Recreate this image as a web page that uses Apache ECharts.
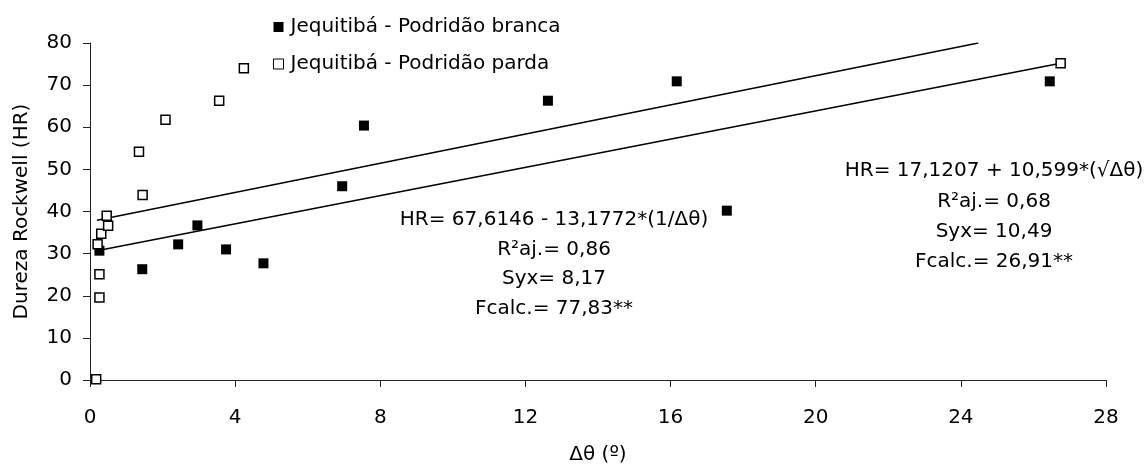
<!DOCTYPE html>
<html>
<head>
<meta charset="utf-8">
<script src="https://cdn.jsdelivr.net/npm/echarts@6/dist/echarts.min.js"></script>
<style>
	html, body { margin: 0; padding: 0; background: #fff; }
	#chart { width: 1147px; height: 470px; }
</style>
</head>
<body>
<div id="chart"></div>
<script>
'use strict';

// Podridão branca (filled squares): [delta theta, HR]
var brancaPoints = [
	[0.26, 30.7], [1.44, 26.3], [2.43, 32.2], [2.96, 36.7], [3.75, 31.0],
	[4.78, 27.7], [6.95, 46.0], [7.55, 60.4], [12.62, 66.3], [16.17, 70.9],
	[17.55, 40.2], [26.45, 70.9]
];

// Podridão parda (open squares)
var pardaPoints = [
	[0.17, 0.2], [0.26, 19.6], [0.26, 25.1], [0.21, 32.2], [0.31, 34.7],
	[0.50, 36.6], [0.46, 39.0], [1.45, 43.9], [1.35, 54.2], [2.08, 61.8],
	[3.56, 66.3], [4.24, 74.0], [26.75, 75.2]
];

// the two straight trend lines, end points
var upperLine = [[0.19, 37.9], [24.48, 80.0]];
var lowerLine = [[0.26, 30.8], [26.75, 75.2]];

var xTicks = { min: 0, max: 28, interval: 4 };
var yTicks = { min: 0, max: 80, interval: 10 };

var seriesNames = ['Jequitibá - Podridão branca', 'Jequitibá - Podridão parda'];

var annotationBranca = ['HR= 67,6146 - 13,1772*(1/\u0394\u03b8)', 'R²aj.= 0,86', 'Syx= 8,17', 'Fcalc.= 77,83**'];
var annotationParda = ['HR= 17,1207 + 10,599*(\u221a\u0394\u03b8)', 'R²aj.= 0,68', 'Syx= 10,49', 'Fcalc.= 26,91**'];

var font = 'DejaVu Sans';
var fontSize = 20;

var myChart = echarts.init(document.getElementById('chart'));

var axisCommon = {
	type: 'value',
	splitLine: { show: false },
	axisLine: { show: true, onZero: false, lineStyle: { color: '#222', width: 1 } },
	axisTick: { show: true, inside: false, length: 7, lineStyle: { color: '#222' } },
	axisLabel: { color: '#000', fontFamily: font, fontSize: fontSize },
	nameTextStyle: { color: '#000', fontFamily: font, fontSize: fontSize }
};

var option = {
	animation: false,
	backgroundColor: '#fff',
	textStyle: { fontFamily: font },
	grid: { left: 90, right: 41, top: 43, bottom: 88 },
	legend: {
		orient: 'vertical',
		left: 268,
		top: 12,
		itemWidth: 10,
		itemHeight: 10,
		itemGap: 17,
		data: [
			{ name: seriesNames[0], icon: 'rect', itemStyle: { color: '#000', borderWidth: 0 } },
			{ name: seriesNames[1], icon: 'rect', itemStyle: { color: '#fff', borderColor: '#000', borderWidth: 1 } }
		],
		textStyle: { color: '#000', fontFamily: font, fontSize: fontSize, padding: [0, 0, 0, 2] }
	},
	xAxis: Object.assign({}, axisCommon, {
		min: xTicks.min,
		max: xTicks.max,
		interval: xTicks.interval,
		name: '\u0394\u03b8 (º)',
		nameLocation: 'middle',
		nameGap: 65,
		axisLabel: Object.assign({}, axisCommon.axisLabel, { margin: 28 })
	}),
	yAxis: Object.assign({}, axisCommon, {
		min: yTicks.min,
		max: yTicks.max,
		interval: yTicks.interval,
		name: 'Dureza Rockwell (HR)',
		nameLocation: 'middle',
		nameGap: 58,
		axisLabel: Object.assign({}, axisCommon.axisLabel, { margin: 18 })
	}),
	series: [
		{
			type: 'line',
			data: upperLine,
			showSymbol: false,
			silent: true,
			lineStyle: { color: '#000', width: 1.5 },
			z: 2
		},
		{
			type: 'line',
			data: lowerLine,
			showSymbol: false,
			silent: true,
			lineStyle: { color: '#000', width: 1.5 },
			z: 2
		},
		{
			name: seriesNames[0],
			type: 'scatter',
			symbol: 'rect',
			symbolSize: 10,
			data: brancaPoints,
			itemStyle: { color: '#000', opacity: 1 },
			z: 3
		},
		{
			name: seriesNames[1],
			type: 'scatter',
			symbol: 'rect',
			symbolSize: 9,
			data: pardaPoints,
			itemStyle: { color: '#fff', borderColor: '#000', borderWidth: 1.5, opacity: 1 },
			z: 4
		}
	],
	graphic: [
		{
			type: 'text',
			x: 554,
			y: 205,
			style: {
				text: annotationBranca.join('\n'),
				align: 'center',
				verticalAlign: 'top',
				lineHeight: 29.7,
				fill: '#000',
				font: fontSize + 'px "' + font + '"'
			}
		},
		{
			type: 'text',
			x: 994,
			y: 156,
			style: {
				text: annotationParda.join('\n'),
				align: 'center',
				verticalAlign: 'top',
				lineHeight: 30.3,
				fill: '#000',
				font: fontSize + 'px "' + font + '"'
			}
		}
	]
};

myChart.setOption(option);
</script>
</body>
</html>
